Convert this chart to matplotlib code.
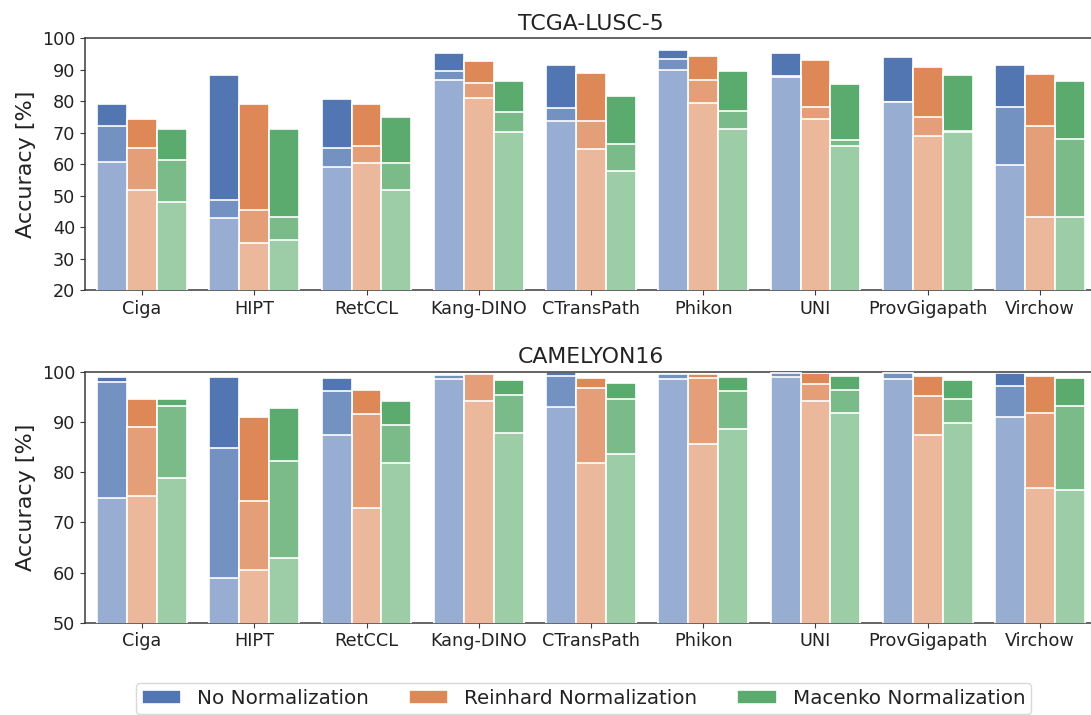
import matplotlib
matplotlib.use("Agg")
import matplotlib.pyplot as plt
import matplotlib.colors as mcolors
import numpy as np

models = ["Ciga", "HIPT", "RetCCL", "Kang-DINO", "CTransPath", "Phikon",
          "UNI", "ProvGigapath", "Virchow"]
methods = ["No Normalization", "Reinhard Normalization", "Macenko Normalization"]

# TCGA-LUSC-5
lusc_none_high = [79.0, 88.3, 80.7, 95.4, 91.5, 96.3, 95.2, 94.2, 91.5]
lusc_none_mid = [72.1, 48.6, 65.2, 89.7, 77.7, 93.3, 87.9, 79.9, 78.3]
lusc_none_low = [60.7, 42.8, 59.2, 86.7, 73.8, 89.9, 87.7, 79.7, 59.7]
lusc_rein_high = [74.3, 79.0, 79.2, 92.8, 89.1, 94.5, 93.1, 90.8, 88.7]
lusc_rein_mid = [65.2, 45.4, 65.8, 85.7, 73.8, 86.7, 78.3, 74.9, 72.2]
lusc_rein_low = [51.8, 35.0, 60.5, 81.1, 64.7, 79.3, 74.3, 69.0, 43.1]
lusc_mac_high = [71.1, 71.1, 75.1, 86.4, 81.7, 89.7, 85.5, 88.3, 86.5]
lusc_mac_mid = [61.3, 43.3, 60.3, 76.7, 66.4, 76.9, 67.7, 70.4, 67.9]
lusc_mac_low = [47.9, 35.9, 51.8, 70.3, 57.9, 71.2, 65.9, 70.2, 43.1]

# CAMELYON16
cam_none_high = [99.0, 99.0, 98.8, 99.5, 99.9, 99.7, 99.8, 99.8, 99.7]
cam_none_mid = [97.9, 84.9, 96.2, 99.4, 99.2, 99.6, 99.7, 99.7, 97.2]
cam_none_low = [74.9, 59.0, 87.4, 98.6, 93.0, 98.6, 99.0, 98.6, 90.9]
cam_rein_high = [94.5, 90.9, 96.4, 99.6, 98.8, 99.5, 99.7, 99.1, 99.1]
cam_rein_mid = [89.0, 74.3, 91.5, 99.5, 96.8, 98.7, 97.6, 95.1, 91.7]
cam_rein_low = [75.2, 60.5, 72.8, 94.1, 81.8, 85.5, 94.1, 87.4, 76.8]
cam_mac_high = [94.5, 92.7, 94.2, 98.4, 97.7, 99.0, 99.1, 98.3, 98.7]
cam_mac_mid = [93.2, 82.2, 89.4, 95.3, 94.5, 96.2, 96.3, 94.6, 93.1]
cam_mac_low = [78.9, 62.9, 81.9, 87.7, 83.6, 88.5, 91.7, 89.7, 76.4]

panels = [
    ("TCGA-LUSC-5", (20, 100),
     [(lusc_none_high, lusc_none_mid, lusc_none_low),
      (lusc_rein_high, lusc_rein_mid, lusc_rein_low),
      (lusc_mac_high, lusc_mac_mid, lusc_mac_low)]),
    ("CAMELYON16", (50, 100),
     [(cam_none_high, cam_none_mid, cam_none_low),
      (cam_rein_high, cam_rein_mid, cam_rein_low),
      (cam_mac_high, cam_mac_mid, cam_mac_low)]),
]

base_colors = ["#4C72B0", "#DD8452", "#55A868"]


def blend(c, a):
    r, g, b = mcolors.to_rgb(c)
    return (r * a + (1 - a), g * a + (1 - a), b * a + (1 - a))


W, H = 1091, 715
fig = plt.figure(figsize=(W / 100, H / 100), dpi=100)

ax_left = 85 / W
ax_width = (1097 - 85) / W
positions = [(38.3, 290.0), (371.7, 622.7)]

x = np.arange(len(models))
bw = 0.2667
spine_col = "#3a3a3a"

for (title, ylim, series), (ptop, pbot) in zip(panels, positions):
    ax = fig.add_axes([ax_left, 1 - pbot / H, ax_width, (pbot - ptop) / H])
    for j, (hi, mid, lo) in enumerate(series):
        pos = x + (j - 1) * bw
        c = base_colors[j]
        ax.bar(pos, hi, width=bw, color=blend(c, 0.97), edgecolor="white",
               linewidth=1.2, label=methods[j], zorder=2)
        ax.bar(pos, mid, width=bw, color=blend(c, 0.78), edgecolor="white",
               linewidth=1.2, zorder=3)
        ax.bar(pos, lo, width=bw, color=blend(c, 0.58), edgecolor="white",
               linewidth=1.2, zorder=4)
    ax.set_ylim(*ylim)
    ax.set_xlim(-0.508, len(models) - 1 + 0.508)
    ax.set_yticks(np.arange(ylim[0], ylim[1] + 1, 10))
    ax.set_xticks(x)
    ax.set_xticklabels(models, fontsize=12.7, color="#222222")
    ax.tick_params(axis="y", labelsize=12.7, labelcolor="#222222",
                   color=spine_col)
    ax.tick_params(axis="x", color=spine_col)
    ax.set_ylabel("Accuracy [%]", fontsize=16, color="#222222")
    ax.set_title(title, fontsize=15.8, color="#222222", pad=6)
    for s in ax.spines.values():
        s.set_color(spine_col)
        s.set_linewidth(1.1)
    if title == "CAMELYON16":
        handles, labels = ax.get_legend_handles_labels()

leg = fig.legend(handles, labels, loc="upper center", ncol=3,
                 bbox_to_anchor=(583.5 / W, 1 - 682.7 / H),
                 borderaxespad=0.0, borderpad=0.3,
                 fontsize=14.3, frameon=True, handlelength=2.0,
                 handletextpad=0.8, columnspacing=2.0)
leg.get_frame().set_edgecolor("#d0d0d0")
for t in leg.get_texts():
    t.set_color("#222222")

fig.savefig("out.png", dpi=100)
